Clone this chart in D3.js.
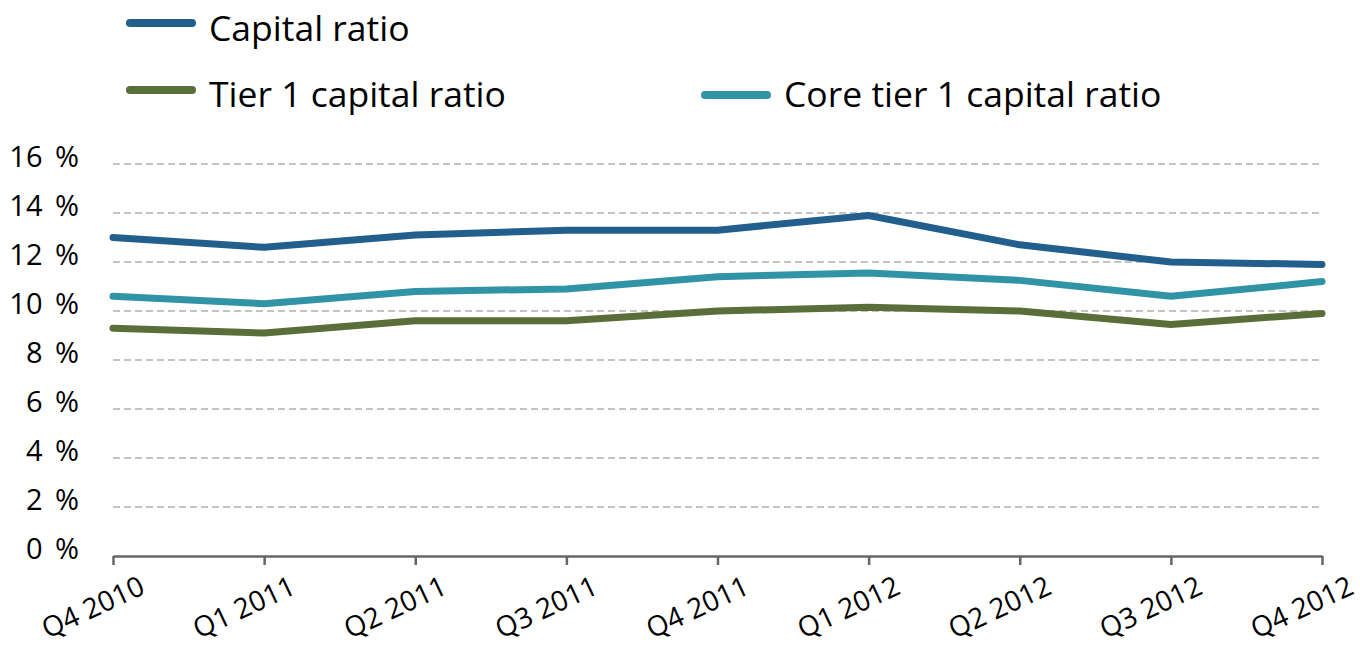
<!DOCTYPE html>
<html>
<head>
<meta charset="utf-8">
<script src="https://cdn.jsdelivr.net/npm/d3@7"></script>
<style>
  body { margin: 0; background: #fff; }
  text { font-family: 'Open Sans', sans-serif; fill: #000; }
</style>
</head>
<body>
<div id="graf"></div>
<script>
// Datos
quarters = ['Q4 2010', 'Q1 2011', 'Q2 2011', 'Q3 2011', 'Q4 2011',
            'Q1 2012', 'Q2 2012', 'Q3 2012', 'Q4 2012']
capitalRatio = [13.0, 12.6, 13.1, 13.3, 13.3, 13.9, 12.7, 12.0, 11.9]
tier1Ratio   = [9.3, 9.1, 9.6, 9.6, 10.0, 10.15, 10.0, 9.45, 9.9]
coreTier1    = [10.6, 10.3, 10.8, 10.9, 11.4, 11.55, 11.25, 10.6, 11.2]
yTicks = [0, 2, 4, 6, 8, 10, 12, 14, 16]

series = [
  { name: 'Capital ratio', values: capitalRatio, color: '#235f8d' },
  { name: 'Tier 1 capital ratio', values: tier1Ratio, color: '#5a6e3a' },
  { name: 'Core tier 1 capital ratio', values: coreTier1, color: '#3194a6' }
]

// Configuración
ancho_total = 1360
alto_total = 646

svg = d3.select('#graf').append('svg')
        .attr('width', ancho_total)
        .attr('height', alto_total)

x = d3.scalePoint()
      .domain(quarters)
      .range([113, 1322])

y = d3.scaleLinear()
      .domain([0, 16])
      .range([556, 164])

// Rejilla
svg.append('g')
   .selectAll('line')
   .data(yTicks.filter(d => d > 0))
   .enter()
   .append('line')
     .attr('x1', x.range()[0])
     .attr('x2', x.range()[1])
     .attr('y1', d => y(d))
     .attr('y2', d => y(d))
     .attr('stroke', '#c3c3c3')
     .attr('stroke-width', 2)
     .attr('stroke-dasharray', '7,4')

// Eje Y (solo etiquetas)
yAxisGroup = svg.append('g')
                .attr('transform', 'translate(79, 0)')
                .call(d3.axisLeft(y).tickValues(yTicks).tickSize(0).tickFormat(d => d + ' %'))
yAxisGroup.select('.domain').remove()
yAxisGroup.selectAll('text')
          .attr('x', 0)
          .attr('dy', '0.1em')
          .attr('text-anchor', 'end')
          .style('font-family', "'Open Sans', sans-serif")
          .style('font-size', '29px')
          .style('word-spacing', '5px')
          .style('fill', '#000')

// Eje X
xAxisGroup = svg.append('g')
                .attr('transform', `translate(0, ${ y(0) })`)
                .call(d3.axisBottom(x).tickSizeInner(9).tickSizeOuter(0))
xAxisGroup.select('.domain')
          .attr('stroke', '#666')
          .attr('stroke-width', 2.5)
xAxisGroup.selectAll('line')
          .attr('stroke', '#666')
          .attr('stroke-width', 2.5)
xAxisGroup.selectAll('text')
          .attr('x', 0)
          .attr('y', 0)
          .attr('dy', 0)
          .attr('text-anchor', 'end')
          .attr('transform', 'translate(33, 37) rotate(-25)')
          .style('font-family', "'Open Sans', sans-serif")
          .style('font-size', '28px')
          .style('fill', '#000')

// Líneas
linea = d3.line()
          .x((d, i) => x(quarters[i]))
          .y(d => y(d))

svg.append('g')
   .selectAll('path')
   .data(series)
   .enter()
   .append('path')
     .attr('d', d => linea(d.values))
     .attr('fill', 'none')
     .attr('stroke', d => d.color)
     .attr('stroke-width', 7)
     .attr('stroke-linecap', 'round')
     .attr('stroke-linejoin', 'round')

// Leyenda
legendPos = [
  { x: 130, y: 23, ty: 41 },
  { x: 130, y: 90, ty: 107 },
  { x: 705, y: 95, ty: 107 }
]

leyenda = svg.append('g')
             .selectAll('g')
             .data(series)
             .enter()
             .append('g')

leyenda.append('line')
       .attr('x1', (d, i) => legendPos[i].x)
       .attr('x2', (d, i) => legendPos[i].x + 62)
       .attr('y1', (d, i) => legendPos[i].y)
       .attr('y2', (d, i) => legendPos[i].y)
       .attr('stroke', d => d.color)
       .attr('stroke-width', 8)
       .attr('stroke-linecap', 'round')

leyenda.append('text')
       .attr('x', (d, i) => legendPos[i].x + 79)
       .attr('y', (d, i) => legendPos[i].ty)
       .style('font-size', '35.5px')
       .text(d => d.name)
</script>
</body>
</html>
